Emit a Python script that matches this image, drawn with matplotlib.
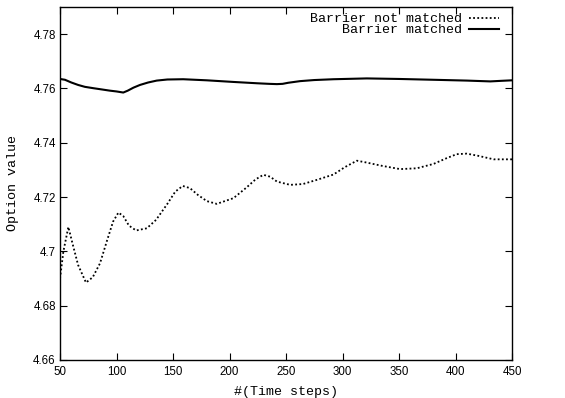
import matplotlib
matplotlib.use('Agg')
import matplotlib.pyplot as plt

# time steps / option values
steps_nm = [50, 53, 57.4, 61, 66, 73, 79, 85.4, 92, 97, 101.7, 106, 111, 117.3, 126.8, 135, 145, 152, 158.6,
            165, 172, 180, 188.7, 203.5, 215, 223, 230, 236, 242, 253.7, 265, 277, 292, 302, 312.7, 321.5,
            335, 351, 365.7, 380.5, 392, 401, 410, 420, 433.8, 450]
value_nm = [4.690, 4.700, 4.709, 4.703, 4.695, 4.6885, 4.6905, 4.6956, 4.7045, 4.7110, 4.7143, 4.7130, 4.7095,
            4.7077, 4.7085, 4.7116, 4.7175, 4.7220, 4.7241, 4.7233, 4.7208, 4.7185, 4.7175, 4.7196, 4.7235,
            4.7265, 4.7282, 4.7275, 4.7257, 4.7245, 4.7248, 4.7263, 4.7283, 4.7310, 4.7334, 4.7327, 4.7315,
            4.7303, 4.7306, 4.7322, 4.7343, 4.7358, 4.7360, 4.7352, 4.7339, 4.7339]

steps_m = [50, 54.4, 60, 66, 72, 79.5, 86, 94, 100, 106, 110, 115, 120.8, 128, 135.6, 145, 159, 180, 203.5,
           225, 235, 242, 247, 252, 262.5, 275, 292, 321.5, 350, 380.5, 410, 430.8, 440, 450]
value_m = [4.7635, 4.7632, 4.7622, 4.7613, 4.7606, 4.7601, 4.7597, 4.7592, 4.7589, 4.7585, 4.7592, 4.7603,
           4.7613, 4.7622, 4.7629, 4.7633, 4.7634, 4.7630, 4.7624, 4.7619, 4.7617, 4.7616, 4.7617, 4.7621,
           4.7627, 4.7631, 4.7634, 4.7637, 4.7635, 4.7632, 4.7629, 4.7626, 4.7628, 4.7630]

fig = plt.figure(figsize=(5.65, 3.98), dpi=100)
ax = fig.add_axes([0.1062, 0.0955, 0.8, 0.8869])

ax.plot(steps_nm, value_nm, color='black', lw=1.3, linestyle=(0, (1, 1.3)), label='Barrier not matched')
ax.plot(steps_m, value_m, color='black', lw=1.5, label='Barrier matched')

ax.set_xlim(50, 450)
ax.set_ylim(4.66, 4.79)
ax.set_xticks(range(50, 451, 50))
ax.set_yticks([4.66, 4.68, 4.70, 4.72, 4.74, 4.76, 4.78])
ax.set_yticklabels(['4.66', '4.68', '4.7', '4.72', '4.74', '4.76', '4.78'])
ax.tick_params(direction='in', top=True, right=True, length=5, width=0.8,
               labelsize=8.3, pad=3)
ax.tick_params(axis='x', pad=4)
for lab in ax.get_xticklabels() + ax.get_yticklabels():
    lab.set_family('Liberation Sans')
for s in ax.spines.values():
    s.set_linewidth(1.0)

ax.set_xlabel('#(Time steps)', family='Liberation Mono', fontsize=9.6, labelpad=6)
ax.set_ylabel('Option value', family='Liberation Mono', fontsize=9.6, labelpad=10)

leg = ax.legend(loc='upper right', bbox_to_anchor=(0.989, 1.006), frameon=False, markerfirst=False,
                handlelength=2.25, labelspacing=-0.1, borderaxespad=0.2, handletextpad=0.5,
                prop={'family': 'Liberation Mono', 'size': 9.6})
for t in leg.get_texts():
    t.set_ha('right')

fig.savefig('out.png', dpi=100)
